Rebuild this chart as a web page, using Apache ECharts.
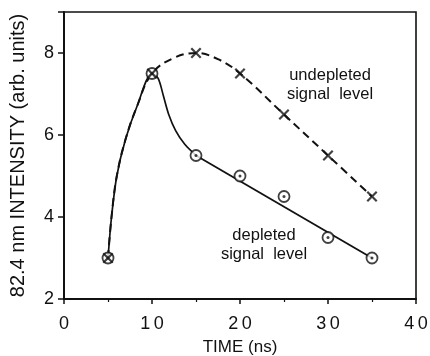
<!DOCTYPE html>
<html>
<head>
<meta charset="utf-8">
<script src="https://cdn.jsdelivr.net/npm/echarts@6/dist/echarts.min.js"></script>
<style>html,body{margin:0;padding:0;background:#fff;}#c{width:430px;height:356px;}</style>
</head>
<body>
<div id="c"></div>
<script>
// Measured points
var times = [5, 10, 15, 20, 25, 30, 35];
var depleted = [3, 7.5, 5.5, 5.0, 4.5, 3.5, 3.0];
var undepleted = [3, 7.5, 8.0, 7.5, 6.5, 5.5, 4.5];
// Drawn guide curves
var depletedCurveX = [5, 5.4, 6, 7, 8.3, 10, 10.7, 11.3, 11.9, 12.7, 13.7, 15];
var depletedCurveY = [3, 4.0, 5.0, 5.9, 6.7, 7.5, 7.38, 6.95, 6.5, 6.1, 5.78, 5.5];
var depletedFitX = [15, 35];
var depletedFitY = [5.5, 3.0];
var undepletedCurveX = [5, 5.4, 6, 7, 8.3, 10, 12.5, 15, 17.5, 20, 25, 30, 35];
var undepletedCurveY = [3, 4.0, 5.0, 5.9, 6.7, 7.5, 7.88, 8.0, 7.85, 7.5, 6.5, 5.5, 4.5];
var xTicks = [0, 10, 20, 30, 40];
var yTicks = [2, 4, 6, 8];

function pairs(xs, ys) { return xs.map(function (x, i) { return [x, ys[i]]; }); }

var INK = '#111';
var FONT = '"Liberation Sans", Arial, Helvetica, sans-serif';
var crossPath = 'path://M0,1.4L1.4,0L5,3.6L8.6,0L10,1.4L6.4,5L10,8.6L8.6,10L5,6.4L1.4,10L0,8.6L3.6,5Z';

var chart = echarts.init(document.getElementById('c'), null, {renderer: 'canvas'});
chart.setOption({
  animation: false,
  backgroundColor: '#fff',
  grid: {left: 64, right: 14, top: 12, bottom: 57, outerBoundsMode: 'none', containLabel: false,
    show: true, borderColor: INK, borderWidth: 1.6, backgroundColor: 'transparent'},
  xAxis: {
    type: 'value', min: 0, max: 40, interval: 10,
    name: 'TIME (ns)', nameLocation: 'middle', nameGap: 40,
    nameTextStyle: {fontFamily: FONT, fontSize: 17, color: INK},
    axisLine: {lineStyle: {color: INK, width: 2}},
    axisTick: {show: true, inside: false, length: 5, lineStyle: {color: INK, width: 1.5}},
    minorTick: {show: true, splitNumber: 2, length: 3, lineStyle: {color: INK, width: 1.2}},
    splitLine: {show: false},
    axisLabel: {fontFamily: FONT, fontSize: 18, color: INK, margin: 16,
      formatter: function (v) { return xTicks.indexOf(v) >= 0 ? String(v).split('').join('\u2009') : ''; }}
  },
  yAxis: {
    type: 'value', min: 2, max: 9, interval: 2,
    name: '82.4 nm INTENSITY (arb. units)', nameLocation: 'middle', nameGap: 36,
    nameTextStyle: {fontFamily: FONT, fontSize: 20, color: INK},
    axisLine: {lineStyle: {color: INK, width: 2}},
    axisTick: {show: true, inside: false, length: 6, lineStyle: {color: INK, width: 1.5}},
    splitLine: {show: false},
    axisLabel: {fontFamily: FONT, fontSize: 18, color: INK, margin: 10,
      formatter: function (v) { return yTicks.indexOf(v) >= 0 ? String(v) : ''; }}
  },
  graphic: [
    {type: 'text', x: 330, y: 66, style: {text: 'undepleted\nsignal  level', font: '16.5px ' + FONT, fill: INK, align: 'center', textAlign: 'center', lineHeight: 19}},
    {type: 'text', x: 264, y: 226, style: {text: 'depleted\nsignal  level', font: '16.5px ' + FONT, fill: INK, align: 'center', textAlign: 'center', lineHeight: 19}}
  ],
  series: [
    {type: 'line', data: pairs(undepletedCurveX, undepletedCurveY), smooth: 0.4, symbol: 'none',
      lineStyle: {color: INK, width: 2, type: [8, 5]}, z: 2},
    {type: 'line', data: pairs(depletedCurveX, depletedCurveY), smooth: 0.3, symbol: 'none',
      lineStyle: {color: INK, width: 1.7}, z: 2},
    {type: 'line', data: pairs(depletedFitX, depletedFitY), symbol: 'none',
      lineStyle: {color: INK, width: 1.8}, z: 2},
    {type: 'scatter', data: pairs(times, depleted), symbol: 'circle', symbolSize: 11,
      itemStyle: {color: '#fff', borderColor: INK, borderWidth: 1.8}, z: 3},
    {type: 'scatter', data: pairs(times, depleted), symbol: 'circle', symbolSize: 3,
      itemStyle: {color: INK}, z: 4},
    {type: 'scatter', data: pairs(times, undepleted), symbol: crossPath, symbolSize: 11,
      itemStyle: {color: INK}, z: 5}
  ]
});
</script>
</body>
</html>
